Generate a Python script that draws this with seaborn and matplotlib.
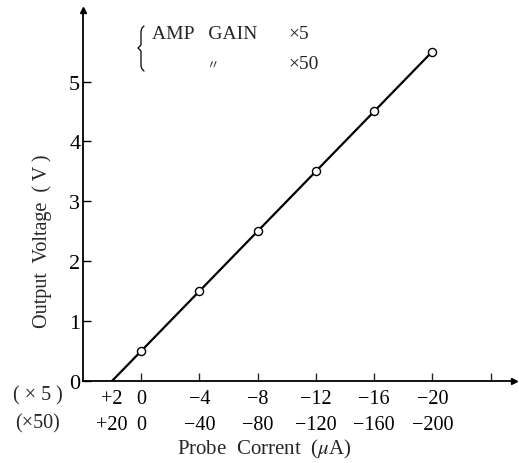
"""Output voltage vs probe current for two amplifier gains."""

import matplotlib.pyplot as plt
import numpy as np
import pandas as pd
import seaborn as sns
from matplotlib.lines import Line2D

# measured points (x5 gain scale, uA) and output voltage (V)
current_x5 = [0, -4, -8, -12, -16, -20]
voltage = [0.5, 1.5, 2.5, 3.5, 4.5, 5.5]

# fitted line end points
fit_current = [2, -20]
fit_voltage = [0.0, 5.5]

# tick labels for both gain scales
tick_x5 = [2, 0, -4, -8, -12, -16, -20]
labels_x5 = ["+2", "0", "\u22124", "\u22128", "\u221212", "\u221216", "\u221220"]
labels_x50 = ["+20", "0", "\u221240", "\u221280", "\u2212120", "\u2212160", "\u2212200"]
mark_x5 = [0, -4, -8, -12, -16, -20, -24]
y_ticks = [0, 1, 2, 3, 4, 5]


def main() -> None:
    sns.set_theme(style="white")
    plt.rcParams["font.family"] = ["Liberation Serif", "DejaVu Serif"]
    plt.rcParams["mathtext.fontset"] = "stix"

    pts = pd.DataFrame({"x": -np.array(current_x5), "v": voltage})
    fit = pd.DataFrame({"x": -np.array(fit_current), "v": fit_voltage})

    W, H = 519, 464
    fig = plt.figure(figsize=(W / 100, H / 100), dpi=100)
    ax = fig.add_axes([0.16, 0.177, 0.83, 0.80])

    sns.lineplot(data=fit, x="x", y="v", color="black", lw=1.6, ax=ax)
    sns.scatterplot(data=pts, x="x", y="v", s=34, marker="o",
                    facecolor="white", edgecolor="black", linewidth=1.0,
                    zorder=3, ax=ax)

    ax.set_xlim(-4, 25.6)
    ax.set_ylim(0, 6.2)
    for s in ["top", "right"]:
        ax.spines[s].set_visible(False)
    for s in ["left", "bottom"]:
        ax.spines[s].set_color("black")
        ax.spines[s].set_linewidth(1.3)

    # axis arrows
    ax.plot(1, 0, ">", color="black", ms=5, transform=ax.transAxes, clip_on=False)
    ax.plot(0, 1, "^", color="black", ms=5, transform=ax.transAxes, clip_on=False)

    ax.set_yticks(y_ticks)
    ax.set_yticklabels([str(t) for t in y_ticks], fontsize=16)
    ax.tick_params(axis="y", direction="in", length=6, width=1, pad=2,
                   left=True, colors="black")

    ax.xaxis.remove_overlapping_locs = False
    ax.set_xticks(-np.array(tick_x5))
    ax.set_xticklabels([f"{a}\n{b}" for a, b in zip(labels_x5, labels_x50)],
                       fontsize=14.5, linespacing=1.5)
    ax.set_xticks(-np.array(mark_x5), minor=True)
    ax.tick_params(axis="x", which="major", length=0, pad=6, colors="black")
    ax.tick_params(axis="x", which="minor", direction="in", length=6, width=1,
                   bottom=True)

    ax.set_xlabel("Probe  Corrent  ($\\mu$A)", fontsize=15,
                  labelpad=2, x=0.42)
    ax.set_ylabel("Output  Voltage  ( V )", fontsize=14.5, labelpad=12, y=0.38)

    fig.text(0.073, 0.147, "( \u00d7 5 )", fontsize=14.5, ha="center", va="center")
    fig.text(0.073, 0.086, "(\u00d750)", fontsize=14.5, ha="center", va="center")

    # gain legend: thin brace drawn in pixel coordinates (top-left origin)
    bx = [144, 142, 141, 141, 138, 141, 141, 142, 144]
    by = [27, 29, 32, 46, 49, 52, 67, 70, 72]
    fig.add_artist(Line2D([x / W for x in bx], [1 - y / H for y in by],
                          color="black", lw=0.9, transform=fig.transFigure))
    fig.text(0.292, 0.925, "AMP   GAIN", fontsize=14, ha="left", va="center")
    fig.text(0.555, 0.925, "\u00d75", fontsize=14, ha="left", va="center")
    fig.text(0.41, 0.857, "\u3003", fontsize=9, ha="center", va="center",
             family=["Noto Sans CJK JP", "DejaVu Sans"])
    fig.text(0.555, 0.86, "\u00d750", fontsize=14, ha="left", va="center")

    fig.savefig("out.png", dpi=100)
    plt.close(fig)


if __name__ == "__main__":
    main()
